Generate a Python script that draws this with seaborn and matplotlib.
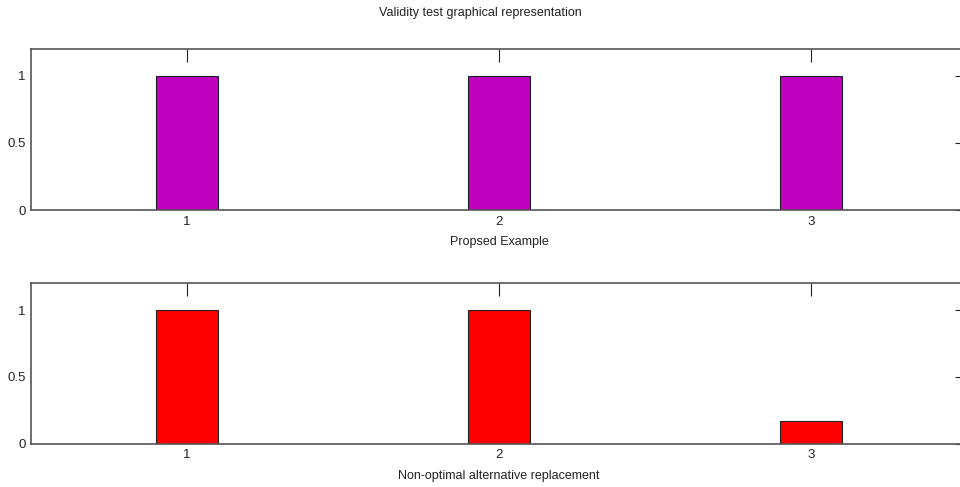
import matplotlib
matplotlib.use("Agg")
import matplotlib.pyplot as plt
import seaborn as sns
import pandas as pd

categories = ["1", "2", "3"]
proposed_values = [1.0, 1.0, 1.0]
alternative_values = [1.0, 1.0, 0.17]
y_ticks = [0, 0.5, 1]
y_tick_labels = ["0", "0.5", "1"]

sns.set_theme(style="white")
plt.rcParams['font.family'] = ['Liberation Sans Narrow', 'Liberation Sans', 'DejaVu Sans']

fig = plt.figure(figsize=(9.6, 4.87), dpi=100)
ax1 = fig.add_axes([31/960, 1-210/487, 936/960, (210-48.7)/487])
ax2 = fig.add_axes([31/960, 1-443.7/487, 936/960, (443.7-283.3)/487])

panels = [
    (ax1, proposed_values, "#BF00BF", "Propsed Example"),
    (ax2, alternative_values, "#FF0000", "Non-optimal alternative replacement"),
]
for ax, vals, color, label in panels:
    df = pd.DataFrame({"cat": categories, "val": vals})
    sns.barplot(data=df, x="cat", y="val", order=categories, color=color,
                saturation=1, width=0.2, edgecolor="#222222", linewidth=0.8, ax=ax)
    ax.set_xlim(-0.5, 2.5)
    ax.set_ylim(0, 1.2)
    ax.set_yticks(y_ticks)
    ax.set_yticklabels(y_tick_labels)
    ax.set_ylabel("")
    ax.set_xlabel(label, fontsize=9, labelpad=6, color="#222222")
    ax.tick_params(direction="in", length=9, width=0.8, color="#222222",
                   top=True, right=True, labelsize=9.5, labelcolor="#222222", pad=4)
    for s in ax.spines.values():
        s.set_color("#555555")
        s.set_linewidth(1.2)

fig.text(0.5, 1-13/487, "Validity test graphical representation", ha="center", va="center",
         fontsize=9, color="#222222")

fig.savefig("out.png", dpi=100)
